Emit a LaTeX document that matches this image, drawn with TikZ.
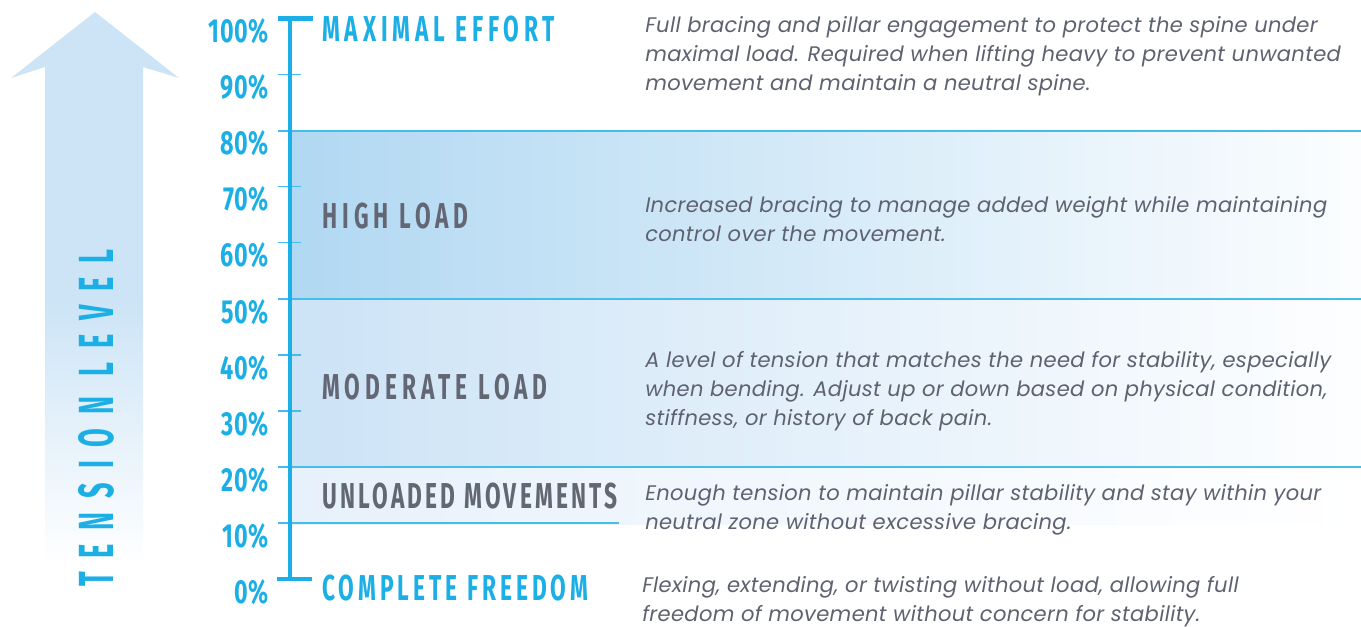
\documentclass[tikz,border=0pt]{standalone}
\usepackage{fontspec}
\setmainfont{Poppins}
\newfontfamily\descfont[LetterSpace=1.5]{Poppins}
\newfontfamily\headfont[FakeStretch=0.63,LetterSpace=9]{Fira Sans}
\newfontfamily\pctfont[FakeStretch=0.7,LetterSpace=2]{Fira Sans}
\newfontfamily\axisfont[FakeStretch=0.55,LetterSpace=28]{Fira Sans}
\newcommand\track[1]{\addfontfeature{LetterSpace=#1}}
\definecolor{cyanA}{HTML}{1BAFE6}
\definecolor{tickC}{HTML}{45BDEA}
\definecolor{grayT}{HTML}{5E6270}
\definecolor{headG}{HTML}{636773}
\definecolor{arrowC}{HTML}{CCE4F6}
\definecolor{bandA}{HTML}{B1D8F2}
\definecolor{bandB}{HTML}{CCE3F6}
\definecolor{bandC}{HTML}{E7F1FB}
\begin{document}
\begin{tikzpicture}[x=0.75pt,y=-0.75pt,
  pct/.style={font=\pctfont\bfseries\fontsize{25}{25}\selectfont, text=cyanA, anchor=north east, inner sep=0pt},
  head/.style={font=\headfont\bfseries\fontsize{27}{27}\selectfont, anchor=west, inner sep=0pt},
  desc/.style={font=\descfont\itshape\fontsize{15.8}{21.8}\selectfont, text=grayT, align=left, anchor=north west, inner sep=0pt},
  bandline/.style={draw=tickC, line width=1.1pt},
  tickline/.style={draw=tickC, line width=1.1pt},
  axisline/.style={draw=cyanA, line width=3.6pt}]
\useasboundingbox (0,0) rectangle (1361,627);

% rising arrow on the left
\fill[arrowC] (95,12) -- (179,78) -- (143,67) -- (143,302) -- (45,302) -- (45,67) -- (11,78) -- cycle;
\shade[top color=arrowC, bottom color=white] (45,300) rectangle (143,565);
\node[font=\axisfont\bfseries\fontsize{37}{37}\selectfont, text=cyanA, rotate=90, inner sep=0pt] (axistitle) at (96,418) {TENSION LEVEL};

% shaded load bands
\shade[left color=bandA, right color=white!96!bandA] (289,131) rectangle (1361,299);
\shade[left color=bandB, right color=white!97!bandB] (289,299) rectangle (1361,467);
\shade[left color=bandC, right color=white] (289,467) rectangle (1361,524);

% band boundaries
\draw[bandline] (278,131) -- (1361,131);
\draw[bandline] (278,299) -- (1361,299);
\draw[bandline] (278,467) -- (1361,467);
\draw[bandline] (278,523) -- (619,523);

% minor ticks
\foreach \p in {1,3,4,6,7,9} {
  \draw[tickline] (278,{579-56.05*\p}) -- (301,{579-56.05*\p});
}

% main scale with end caps
\draw[axisline] (290,18) -- (290,579);
\draw[axisline] (278,18.5) -- (313,18.5);
\draw[axisline] (277,579) -- (312,579);

% percentage labels
\foreach \p in {0,...,10} {
  \node[pct] (pct\p) at (269,{579-56.05*\p}) {\the\numexpr\p*10\relax\%};
}

% level headings
\node[head, text=cyanA] (hmax) at (322,29) {\track{13.5}MAXIMAL EFFORT};
\node[head, text=headG] (hhigh) at (322,216) {\track{14}HIGH LOAD};
\node[head, text=headG] (hmod) at (322,387) {\track{14}MODERATE LOAD};
\node[head, text=headG] (hunl) at (322,496) {UNLOADED MOVEMENTS};
\node[head, text=cyanA] (hfree) at (322,588) {\track{11.2}COMPLETE FREEDOM};

% descriptions
\node[desc] (dmax) at (645,16) {Full bracing and pillar engagement to protect the spine under\\maximal load. Required when lifting heavy to prevent unwanted\\movement and maintain a neutral spine.};
\node[desc] (dhigh) at (645,196) {Increased bracing to manage added weight while maintaining\\control over the movement.};
\node[desc] (dmod) at (645,351) {A level of tension that matches the need for stability, especially\\when bending. Adjust up or down based on physical condition,\\stiffness, or history of back pain.};
\node[desc] (dunl) at (645,484) {Enough tension to maintain pillar stability and stay within your\\neutral zone without excessive bracing.};
\node[desc] (dfree) at (642,576) {Flexing, extending, or twisting without load, allowing full\\freedom of movement without concern for stability.};
\end{tikzpicture}
\end{document}
